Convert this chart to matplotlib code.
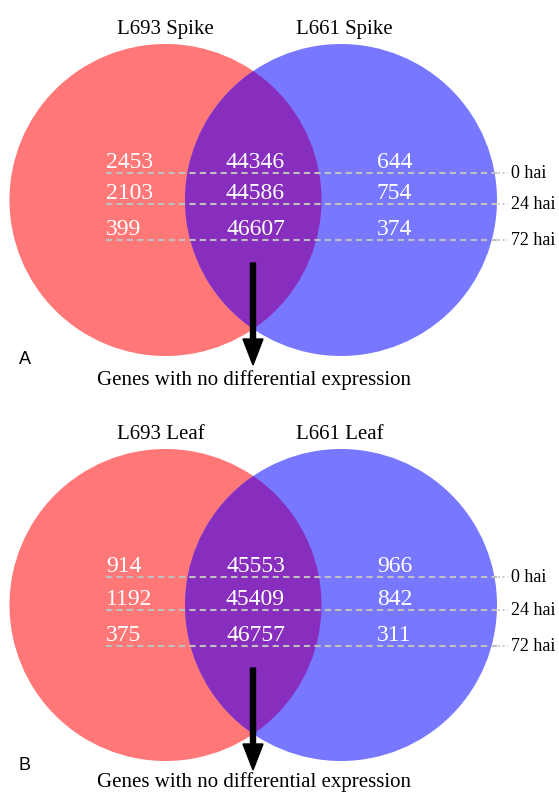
import matplotlib.pyplot as plt
from matplotlib.patches import Circle, FancyArrow

# -----------------------------
# Data
# -----------------------------
TIMEPOINTS = ["0 hai", "24 hai", "72 hai"]

SPIKE_TITLES = ["L693 Spike", "L661 Spike"]
SPIKE_L693_ONLY = [2453, 2103, 399]
SPIKE_SHARED = [44346, 44586, 46607]
SPIKE_L661_ONLY = [644, 754, 374]

LEAF_TITLES = ["L693 Leaf", "L661 Leaf"]
LEAF_L693_ONLY = [914, 1192, 375]
LEAF_SHARED = [45553, 45409, 46757]
LEAF_L661_ONLY = [966, 842, 311]

CENTER_NOTE = "Genes with no differential expression"

# -----------------------------
# Style
# -----------------------------
RED = "#FF7777"
BLUE = "#7777FF"
PURPLE = "#882EBE"
LINE_GRAY = "#C0C0C0"
SERIF = ["Liberation Serif", "DejaVu Serif"]
SANS = ["Liberation Sans", "DejaVu Sans"]

W, H = 559, 792
fig = plt.figure(figsize=(W / 100, H / 100), dpi=100)
ax = fig.add_axes([0, 0, 1, 1])
ax.set_xlim(0, W)
ax.set_ylim(H, 0)
ax.axis("off")

R = 156
CX_LEFT, CX_RIGHT = 165.5, 341


def draw_panel(y0, titles, left_only, shared, right_only, line_y, letter, note_y):
    cy = y0 + 200
    c_left = Circle((CX_LEFT, cy), R, facecolor=RED, edgecolor="none", zorder=1)
    c_right = Circle((CX_RIGHT, cy), R, facecolor=BLUE, edgecolor="none", zorder=2)
    ax.add_patch(c_left)
    ax.add_patch(c_right)
    # overlap region: right circle clipped to the left one
    overlap = Circle((CX_RIGHT, cy), R, facecolor=PURPLE, edgecolor="none", zorder=3)
    ax.add_patch(overlap)
    overlap.set_clip_path(c_left)

    ax.text(117, y0 + 34, titles[0], ha="left", va="baseline",
            fontsize=15, family=SERIF, color="black")
    ax.text(296, y0 + 34, titles[1], ha="left", va="baseline",
            fontsize=15, family=SERIF, color="black")

    for i, tp in enumerate(TIMEPOINTS):
        ly = line_y[i]
        ax.plot([106, CX_RIGHT + R], [ly, ly], color=LINE_GRAY, lw=1.5,
                linestyle=(0, (3, 2)), zorder=4, solid_capstyle="butt")
        ax.plot([CX_RIGHT + R + 1, 508], [ly, ly], color=LINE_GRAY, lw=1.3,
                linestyle=(0, (1, 1.6)), zorder=4)
        ax.text(511, ly + 5, tp, ha="left", va="baseline", fontsize=13,
                family=SERIF, color="black")
        by = ly - 5
        ax.text(106, by, f"{left_only[i]}", ha="left", va="baseline",
                fontsize=17, family=SERIF, color="white", zorder=5)
        ax.text(255.5, by, f"{shared[i]}", ha="center", va="baseline",
                fontsize=17, family=SERIF, color="white", zorder=5)
        ax.text(377, by, f"{right_only[i]}", ha="left", va="baseline",
                fontsize=17, family=SERIF, color="white", zorder=5)

    ax.add_patch(FancyArrow(253, y0 + 263, 0, 102, width=5, head_width=20,
                            head_length=26, length_includes_head=True,
                            color="black", zorder=6))
    ax.text(254, note_y, CENTER_NOTE, ha="center", va="baseline",
            fontsize=15, family=SERIF, color="black")
    ax.text(25, y0 + 360, letter, ha="center", va="center", fontsize=13,
            family=SANS, color="black")


draw_panel(0, SPIKE_TITLES, SPIKE_L693_ONLY, SPIKE_SHARED, SPIKE_L661_ONLY,
           [173, 204, 240], "A", 385)
draw_panel(405, LEAF_TITLES, LEAF_L693_ONLY, LEAF_SHARED, LEAF_L661_ONLY,
           [577, 610, 646], "B", 787)

fig.savefig("out.png", dpi=100)
